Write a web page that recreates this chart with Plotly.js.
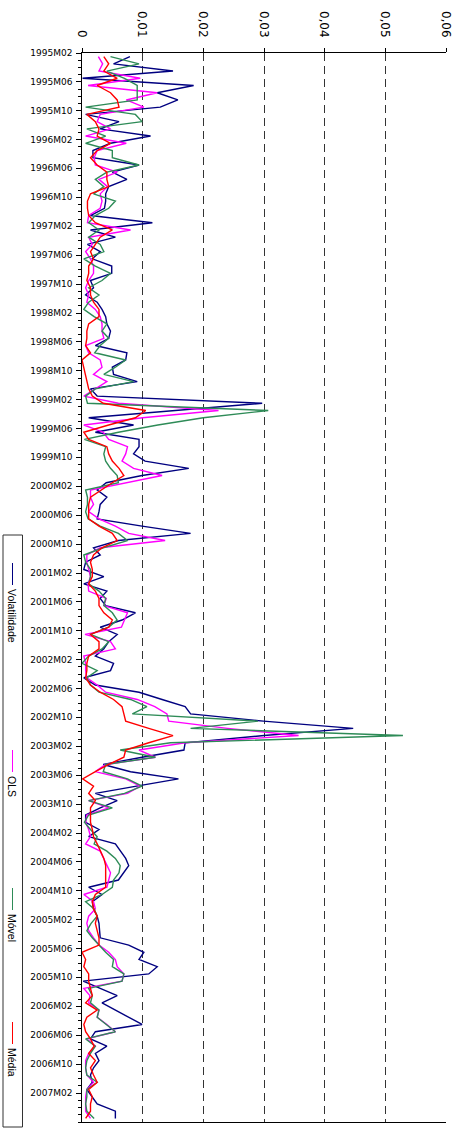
<!DOCTYPE html>
<html>
<head>
<meta charset="utf-8">
<script src="https://cdn.plot.ly/plotly-3.0.1.min.js"></script>
<style>
html,body{margin:0;padding:0;width:461px;height:1131px;overflow:hidden;background:#fff;}
#wrap{position:absolute;left:0;top:0;width:1131px;height:461px;transform-origin:0 0;transform:translate(461px,0) rotate(90deg);}
</style>
</head>
<body>
<div id="wrap"><div id="chart"></div></div>
<script>
// ---- data ----
const startYear = 1995, startMonth = 2, nMonths = 148;
const months = [];
for (let k = 0; k < nMonths; k++) {
  const m = startMonth - 1 + k;
  const y = startYear + Math.floor(m / 12);
  const mm = (m % 12) + 1;
  months.push(y + 'M' + (mm < 10 ? '0' + mm : mm));
}
const tickLabels = ['1995M02','1995M06','1995M10','1996M02','1996M06','1996M10','1997M02','1997M06','1997M10',
  '1998M02','1998M06','1998M10','1999M02','1999M06','1999M10','2000M02','2000M06','2000M10',
  '2001M02','2001M06','2001M10','2002M02','2002M06','2002M10','2003M02','2003M06','2003M10',
  '2004M02','2004M06','2004M10','2005M02','2005M06','2005M10','2006M02','2006M06','2006M10','2007M02'];
const valueTicks = [0, 0.01, 0.02, 0.03, 0.04, 0.05, 0.06];
const valueTickText = ['0', '0,01', '0,02', '0,03', '0,04', '0,05', '0,06'];
const seriesNames = ['Volatilidade', 'OLS', 'Móvel', 'Média'];

const volatilidade = [
0.0079,0.0052,0.0150,0.0001,0.0184,0.0124,0.0158,0.0129,0.0006,0.0061,0.0030,0.0113,0.0047,0.0018,0.0018,0.0094,0.0050,
0.0074,0.0044,0.0039,0.0039,0.0037,0.0014,0.0116,0.0014,0.0055,0.0009,0.0030,0.0017,0.0049,0.0049,0.0014,0.0019,0.0006,
0.0025,0.0033,0.0039,0.0041,0.0047,0.0044,0.0022,0.0074,0.0072,0.0050,0.0052,0.0091,0.0014,0.0025,0.0297,0.0150,
0.0011,0.0085,0.0022,0.0094,0.0094,0.0085,0.0104,0.0176,0.0099,0.0040,0.0025,0.0041,0.0030,0.0028,0.0025,0.0099,0.0179,
0.0060,0.0019,0.0030,0.0006,0.0003,0.0036,0.0003,0.0041,0.0030,0.0039,0.0088,0.0066,0.0030,0.0058,0.0044,0.0036,
0.0022,0.0052,0.0047,0.0003,0.0022,0.0094,0.0132,0.0170,0.0179,0.0299,0.0447,0.0300,0.0170,0.0168,0.0099,0.0035,
0.0080,0.0159,0.0090,0.0022,0.0058,0.0030,0.0006,0.0006,0.0028,0.0011,0.0055,0.0063,0.0072,0.0077,0.0069,0.0060,0.0011,
0.0033,0.0017,0.0019,0.0025,0.0028,0.0029,0.0030,0.0077,0.0102,0.0094,0.0124,0.0110,0.0002,
0.0030,0.0058,0.0033,0.0055,0.0077,0.0099,0.0022,0.0014,0.0041,0.0022,0.0028,0.0019,0.0014,0.0017,0.0008,0.0017,0.0025,0.0055,0.0055];

const ols = [
0.0027,0.0034,0.0028,0.0096,0.0010,0.0124,0.0073,0.0102,0.0030,0.0025,0.0047,0.0006,0.0073,0.0025,0.0020,0.0022,0.0058,
0.0028,0.0042,0.0030,0.0033,0.0030,0.0011,0.0009,0.0080,0.0011,0.0017,0.0006,0.0014,0.0019,0.0019,0.0011,0.0006,0.0011,
0.0008,0.0022,0.0030,0.0033,0.0033,0.0036,0.0006,0.0011,0.0030,0.0033,0.0019,0.0041,0.0022,0.0003,0.0060,0.0225,
0.0100,0.0003,0.0035,0.0044,0.0075,0.0072,0.0066,0.0085,0.0132,0.0070,0.0014,0.0014,0.0019,0.0011,0.0028,0.0055,0.0077,
0.0137,0.0030,0.0008,0.0008,0.0011,0.0014,0.0010,0.0011,0.0040,0.0036,0.0075,0.0070,0.0065,0.0005,0.0047,0.0055,
0.0003,0.0006,0.0006,0.0008,0.0025,0.0039,0.0091,0.0120,0.0140,0.0143,0.0240,0.0357,0.0170,0.0094,0.0121,0.0039,
0.0022,0.0072,0.0096,0.0075,0.0011,0.0044,0.0008,0.0006,0.0011,0.0014,0.0006,0.0030,0.0036,0.0041,0.0047,0.0044,0.0041,
0.0003,0.0019,0.0022,0.0011,0.0008,0.0011,0.0019,0.0028,0.0044,0.0055,0.0058,0.0069,0.0066,
0.0003,0.0013,0.0011,0.0028,0.0025,0.0041,0.0055,0.0008,0.0022,0.0011,0.0006,0.0006,0.0008,0.0019,0.0008,0.0006,0.0006,0.0006,0.0014];

const movel = [
0.0047,0.0094,0.0041,0.0070,0.0091,0.0091,0.0091,0.0006,0.0088,0.0099,0.0008,0.0039,0.0006,0.0050,0.0050,0.0094,0.0041,
0.0022,0.0036,0.0019,0.0055,0.0044,0.0022,0.0011,0.0028,0.0011,0.0030,0.0036,0.0003,0.0022,0.0047,0.0033,0.0011,0.0028,
0.0011,0.0003,0.0020,0.0041,0.0033,0.0044,0.0030,0.0021,0.0072,0.0055,0.0036,0.0085,0.0022,0.0006,0.0009,0.0307,
0.0200,0.0125,0.0060,0.0004,0.0039,0.0036,0.0039,0.0047,0.0058,0.0060,0.0006,0.0009,0.0009,0.0006,0.0010,0.0030,0.0060,
0.0075,0.0035,0.0003,0.0006,0.0014,0.0014,0.0011,0.0028,0.0039,0.0036,0.0050,0.0058,0.0044,0.0014,0.0044,0.0033,
0.0011,0.0000,0.0025,0.0008,0.0014,0.0028,0.0080,0.0107,0.0083,0.0290,0.0179,0.0529,0.0146,0.0063,0.0121,0.0039,
0.0035,0.0075,0.0099,0.0070,0.0011,0.0050,0.0011,0.0004,0.0014,0.0025,0.0020,0.0041,0.0055,0.0063,0.0061,0.0052,0.0050,
0.0033,0.0006,0.0020,0.0025,0.0015,0.0008,0.0017,0.0028,0.0039,0.0052,0.0050,0.0069,0.0066,
0.0011,0.0017,0.0014,0.0028,0.0025,0.0040,0.0055,0.0006,0.0022,0.0014,0.0008,0.0006,0.0008,0.0025,0.0008,0.0008,0.0006,0.0008,0.0020];

const media = [
0.0036,0.0044,0.0036,0.0058,0.0025,0.0047,0.0058,0.0061,0.0008,0.0022,0.0028,0.0025,0.0047,0.0025,0.0014,0.0025,0.0041,
0.0041,0.0044,0.0014,0.0009,0.0009,0.0011,0.0022,0.0050,0.0030,0.0022,0.0014,0.0019,0.0011,0.0011,0.0008,0.0014,0.0014,
0.0019,0.0028,0.0028,0.0011,0.0008,0.0008,0.0006,0.0014,0.0000,0.0003,0.0006,0.0008,0.0011,0.0017,0.0035,0.0105,
0.0088,0.0044,0.0003,0.0011,0.0041,0.0044,0.0050,0.0061,0.0069,0.0050,0.0033,0.0014,0.0011,0.0011,0.0011,0.0028,0.0050,
0.0058,0.0033,0.0019,0.0014,0.0017,0.0017,0.0011,0.0022,0.0028,0.0028,0.0036,0.0050,0.0044,0.0014,0.0028,0.0028,
0.0011,0.0008,0.0008,0.0006,0.0014,0.0030,0.0052,0.0066,0.0069,0.0072,0.0110,0.0150,0.0110,0.0072,0.0069,0.0044,
0.0022,0.0001,0.0019,0.0011,0.0022,0.0014,0.0014,0.0014,0.0017,0.0019,0.0025,0.0030,0.0036,0.0039,0.0039,0.0039,0.0039,
0.0022,0.0017,0.0019,0.0025,0.0022,0.0025,0.0028,0.0028,0.0000,0.0006,0.0003,0.0011,0.0011,
0.0014,0.0017,0.0006,0.0025,0.0008,0.0003,0.0006,0.0014,0.0020,0.0011,0.0022,0.0014,0.0019,0.0025,0.0011,0.0017,0.0014,0.0014,0.0006];

const seriesValues = [volatilidade, ols, movel, media];
const seriesColors = ['#000080', '#ff00ff', '#2e8b57', '#ff0000'];

// ---- geometry (unrotated frame; page rotates it 90deg clockwise) ----
const W = 1131, H = 461;
const M = {l: 53, r: 9, t: 15, b: 82};
const pw = W - M.l - M.r, ph = H - M.t - M.b;
const pxX = x => (x - M.l) / pw;
const pxY = y => (H - M.b - y) / ph;

const xPos = months.map((m, i) => i + 0.5);
const tickVals = tickLabels.map(l => months.indexOf(l));

const traces = seriesNames.map((name, s) => ({
  type: 'scatter', mode: 'lines', name: name,
  x: xPos, y: seriesValues[s],
  line: {color: seriesColors[s], width: 1.4},
  hoverinfo: 'skip', showlegend: false
}));

// manual legend (box + samples + labels)
const legendStarts = [563, 750, 888, 1022];
const legY = 448.5;
const shapes = [{
  type: 'rect', xref: 'paper', yref: 'paper',
  x0: pxX(535), x1: pxX(1127), y0: pxY(438.5), y1: pxY(458),
  line: {color: '#333', width: 1}, fillcolor: 'rgba(0,0,0,0)'
}];
const annotations = [];
seriesNames.forEach((name, s) => {
  shapes.push({type: 'line', xref: 'paper', yref: 'paper',
    x0: pxX(legendStarts[s]), x1: pxX(legendStarts[s] + 22), y0: pxY(legY), y1: pxY(legY),
    line: {color: seriesColors[s], width: 1}});
  annotations.push({xref: 'paper', yref: 'paper', x: pxX(legendStarts[s] + 24), y: pxY(legY),
    xanchor: 'left', yanchor: 'middle', showarrow: false, text: name,
    font: {family: 'Liberation Sans, Arial, sans-serif', size: 10.5, color: '#000'}});
});

const layout = {
  width: W, height: H,
  margin: M,
  paper_bgcolor: '#fff', plot_bgcolor: '#fff',
  showlegend: false,
  xaxis: {
    range: [0, nMonths], tickmode: 'array', tickvals: tickVals, ticktext: tickLabels,
    tickangle: -90, ticks: 'outside', ticklen: 5, tickcolor: '#000', tickwidth: 1,
    showline: true, linecolor: '#000', linewidth: 1, showgrid: false, zeroline: false,
    tickfont: {family: 'DejaVu Sans, sans-serif', size: 9, color: '#000'},
    minor: {tickmode: 'linear', tick0: 0, dtick: 1, ticks: 'outside', ticklen: 3, tickcolor: '#000', showgrid: false}
  },
  yaxis: {
    range: [0, 0.06], tickmode: 'array', tickvals: valueTicks, ticktext: valueTickText,
    ticks: 'outside', ticklen: 4, tickcolor: '#000',
    showline: true, mirror: true, linecolor: '#000', linewidth: 1,
    showgrid: true, gridcolor: '#333', gridwidth: 1, griddash: '8px,5px', zeroline: false,
    tickfont: {family: 'DejaVu Sans, sans-serif', size: 12, color: '#000'},
    ticklabelstandoff: 8
  },
  shapes: shapes,
  annotations: annotations
};

Plotly.newPlot('chart', traces, layout, {staticPlot: true, displayModeBar: false});
</script>
</body>
</html>
